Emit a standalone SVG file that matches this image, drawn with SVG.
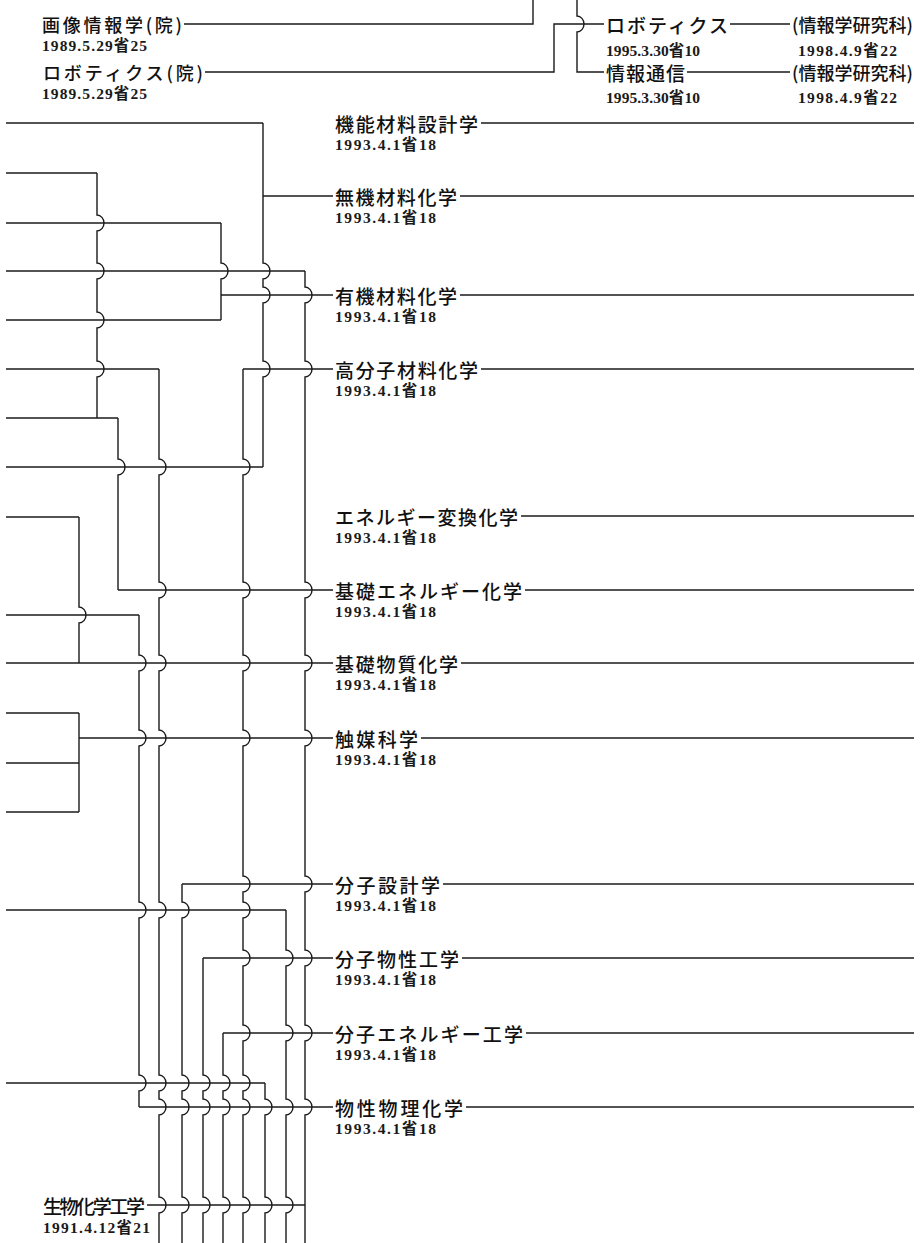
<svg xmlns="http://www.w3.org/2000/svg" width="924" height="1243" viewBox="0 0 924 1243">
<style>
.w{fill:none;stroke:#1a1a1a;stroke-width:1.4}
.lb{font-family:"Noto Sans CJK JP","Noto Sans CJK SC",sans-serif;font-size:19px;font-weight:500;fill:#111;dominant-baseline:central}
.lt{font-family:"Noto Sans CJK JP","Noto Sans CJK SC",sans-serif;font-size:18px;font-weight:500;fill:#111;dominant-baseline:central}
.dt{font-family:"Liberation Serif","Noto Sans CJK JP",serif;font-size:15.5px;font-weight:bold;fill:#1a1a1a;dominant-baseline:central}
</style>
<rect width="924" height="1243" fill="#fff"/>
<g id="connectors" class="w">
<path d="M184 24 H533 V0"/>
<path d="M205 72 H554 V24 H604"/>
<path d="M577 0 V16 a7 8 0 0 1 0 16 V72 H604"/>
<path d="M730 24 H790"/>
<path d="M687 72 H790"/>
<path d="M6 123 H263"/>
<path d="M6 173 H97"/>
<path d="M6 223 H221"/>
<path d="M6 271 H305"/>
<path d="M6 320 H221"/>
<path d="M6 369 H159"/>
<path d="M6 418 H118"/>
<path d="M6 467 H263"/>
<path d="M6 517 H79"/>
<path d="M6 615 H139"/>
<path d="M6 663 H333"/>
<path d="M6 713 H79"/>
<path d="M6 763 H79"/>
<path d="M6 812 H79"/>
<path d="M6 910 H286"/>
<path d="M6 1083 H265"/>
<path d="M263 196 H333"/>
<path d="M221 295 H333"/>
<path d="M243 369 H333"/>
<path d="M118 590 H333"/>
<path d="M79 738 H333"/>
<path d="M182 884 H333"/>
<path d="M203 958 H333"/>
<path d="M223 1033 H333"/>
<path d="M139 1107 H333"/>
<path d="M147 1205 H305"/>
<path d="M263 123 V263 a7 8 0 0 1 0 16 V287 a7 8 0 0 1 0 16 V361 a7 8 0 0 1 0 16 V467"/>
<path d="M97 173 V215 a7 8 0 0 1 0 16 V263 a7 8 0 0 1 0 16 V312 a7 8 0 0 1 0 16 V361 a7 8 0 0 1 0 16 V418"/>
<path d="M221 223 V263 a7 8 0 0 1 0 16 V320"/>
<path d="M305 271 V287 a7 8 0 0 1 0 16 V361 a7 8 0 0 1 0 16 V582 a7 8 0 0 1 0 16 V655 a7 8 0 0 1 0 16 V730 a7 8 0 0 1 0 16 V876 a7 8 0 0 1 0 16 V950 a7 8 0 0 1 0 16 V1025 a7 8 0 0 1 0 16 V1099 a7 8 0 0 1 0 16 V1243"/>
<path d="M159 369 V459 a7 8 0 0 1 0 16 V582 a7 8 0 0 1 0 16 V655 a7 8 0 0 1 0 16 V730 a7 8 0 0 1 0 16 V902 a7 8 0 0 1 0 16 V1075 a7 8 0 0 1 0 16 V1099 a7 8 0 0 1 0 16 V1197 a7 8 0 0 1 0 16 V1243"/>
<path d="M243 369 V459 a7 8 0 0 1 0 16 V582 a7 8 0 0 1 0 16 V655 a7 8 0 0 1 0 16 V730 a7 8 0 0 1 0 16 V876 a7 8 0 0 1 0 16 V902 a7 8 0 0 1 0 16 V950 a7 8 0 0 1 0 16 V1025 a7 8 0 0 1 0 16 V1075 a7 8 0 0 1 0 16 V1099 a7 8 0 0 1 0 16 V1197 a7 8 0 0 1 0 16 V1243"/>
<path d="M118 418 V459 a7 8 0 0 1 0 16 V590"/>
<path d="M79 517 V607 a7 8 0 0 1 0 16 V663"/>
<path d="M139 615 V655 a7 8 0 0 1 0 16 V730 a7 8 0 0 1 0 16 V902 a7 8 0 0 1 0 16 V1075 a7 8 0 0 1 0 16 V1107"/>
<path d="M79 713 V812"/>
<path d="M286 910 V950 a7 8 0 0 1 0 16 V1025 a7 8 0 0 1 0 16 V1099 a7 8 0 0 1 0 16 V1197 a7 8 0 0 1 0 16 V1243"/>
<path d="M182 884 V902 a7 8 0 0 1 0 16 V1075 a7 8 0 0 1 0 16 V1099 a7 8 0 0 1 0 16 V1197 a7 8 0 0 1 0 16 V1243"/>
<path d="M203 958 V1075 a7 8 0 0 1 0 16 V1099 a7 8 0 0 1 0 16 V1197 a7 8 0 0 1 0 16 V1243"/>
<path d="M223 1033 V1075 a7 8 0 0 1 0 16 V1099 a7 8 0 0 1 0 16 V1197 a7 8 0 0 1 0 16 V1243"/>
<path d="M265 1083 V1099 a7 8 0 0 1 0 16 V1197 a7 8 0 0 1 0 16 V1243"/>
<path d="M481 123 H914"/>
<path d="M460 196 H914"/>
<path d="M460 295 H914"/>
<path d="M481 369 H914"/>
<path d="M521 516 H914"/>
<path d="M525 590 H914"/>
<path d="M461 663 H914"/>
<path d="M421 738 H914"/>
<path d="M443 884 H914"/>
<path d="M462 958 H914"/>
<path d="M526 1033 H914"/>
<path d="M466 1107 H914"/>
</g>
<g id="n-gazou-in"><text class="lt" x="42" y="24" textLength="140">画像情報学(院)</text><text class="dt" x="42" y="45" textLength="105">1989.5.29省25</text></g>
<g id="n-robo-in"><text class="lt" x="43" y="72" textLength="160">ロボティクス(院)</text><text class="dt" x="42" y="93" textLength="105">1989.5.29省25</text></g>
<g id="n-robo"><text class="lb" x="606" y="24" textLength="122">ロボティクス</text><text class="dt" x="606" y="50" textLength="94">1995.3.30省10</text></g>
<g id="n-robo-j"><text class="lt" x="792" y="24" textLength="121">(情報学研究科)</text><text class="dt" x="798" y="50" textLength="99">1998.4.9省22</text></g>
<g id="n-tsushin"><text class="lb" x="606" y="72" textLength="79">情報通信</text><text class="dt" x="606" y="97" textLength="94">1995.3.30省10</text></g>
<g id="n-tsushin-j"><text class="lt" x="792" y="72" textLength="121">(情報学研究科)</text><text class="dt" x="798" y="97" textLength="99">1998.4.9省22</text></g>
<g id="n1"><text class="lb" x="335" y="123" textLength="143">機能材料設計学</text><text class="dt" x="335" y="144" textLength="101">1993.4.1省18</text></g>
<g id="n2"><text class="lb" x="335" y="196" textLength="122">無機材料化学</text><text class="dt" x="335" y="217" textLength="101">1993.4.1省18</text></g>
<g id="n3"><text class="lb" x="335" y="295" textLength="122">有機材料化学</text><text class="dt" x="335" y="316" textLength="101">1993.4.1省18</text></g>
<g id="n4"><text class="lb" x="335" y="369" textLength="143">高分子材料化学</text><text class="dt" x="335" y="390" textLength="101">1993.4.1省18</text></g>
<g id="n5"><text class="lb" x="335" y="516" textLength="183">エネルギー変換化学</text><text class="dt" x="335" y="537" textLength="101">1993.4.1省18</text></g>
<g id="n6"><text class="lb" x="335" y="590" textLength="187">基礎エネルギー化学</text><text class="dt" x="335" y="611" textLength="101">1993.4.1省18</text></g>
<g id="n7"><text class="lb" x="335" y="663" textLength="123">基礎物質化学</text><text class="dt" x="335" y="684" textLength="101">1993.4.1省18</text></g>
<g id="n8"><text class="lb" x="335" y="738" textLength="83">触媒科学</text><text class="dt" x="335" y="759" textLength="101">1993.4.1省18</text></g>
<g id="n9"><text class="lb" x="335" y="884" textLength="105">分子設計学</text><text class="dt" x="335" y="905" textLength="101">1993.4.1省18</text></g>
<g id="n10"><text class="lb" x="335" y="958" textLength="124">分子物性工学</text><text class="dt" x="335" y="979" textLength="101">1993.4.1省18</text></g>
<g id="n11"><text class="lb" x="335" y="1033" textLength="188">分子エネルギー工学</text><text class="dt" x="335" y="1054" textLength="101">1993.4.1省18</text></g>
<g id="n12"><text class="lb" x="335" y="1107" textLength="128">物性物理化学</text><text class="dt" x="335" y="1128" textLength="101">1993.4.1省18</text></g>
<g id="n13"><text class="lb" x="43" y="1205" textLength="102">生物化学工学</text><text class="dt" x="43" y="1227" textLength="107">1991.4.12省21</text></g>
</svg>
